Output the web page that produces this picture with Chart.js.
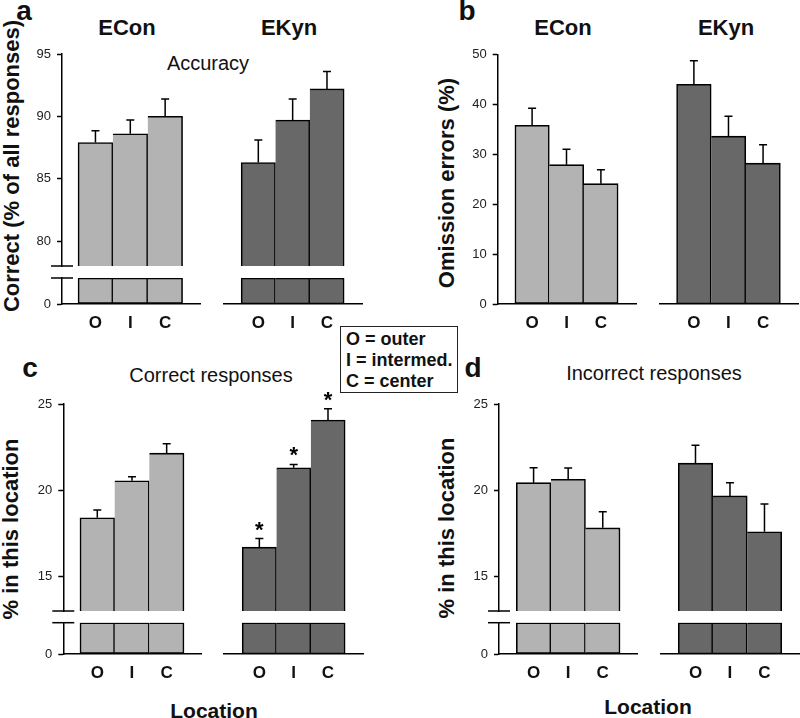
<!DOCTYPE html>
<html>
<head>
<meta charset="utf-8">
<script src="https://cdn.jsdelivr.net/npm/chart.js@4.4.0/dist/chart.umd.min.js"></script>
<style>
  body { margin: 0; background: #fff; }
  #fig { position: relative; width: 800px; height: 718px; overflow: hidden; background: #fff;
         font-family: 'Liberation Sans', Arial, sans-serif; color: #111; }
  #fig canvas { position: absolute; }
  .t { position: absolute; white-space: nowrap; line-height: 1; transform: translate(-50%, -50%); }
  .letter { font-weight: bold; font-size: 28px; }
  .grp { font-weight: bold; font-size: 22px; }
  .sub { font-size: 20px; }
  .ytitle { font-weight: bold; font-size: 22px; transform: translate(-50%, -50%) rotate(-90deg); }
  .xtitle { font-weight: bold; font-size: 21px; }
  #legend { position: absolute; left: 340px; top: 326px; width: 118px; height: 67px; border: 1px solid #222;
            font-weight: bold; font-size: 18px; line-height: 21px; padding: 2px 0 0 5px; box-sizing: border-box;
            white-space: nowrap; }
</style>
</head>
<body>
<div id="fig">
  <div class="t letter" style="left:24px;top:11px">a</div>
  <div class="t grp" style="left:127px;top:28px">ECon</div>
  <div class="t grp" style="left:289px;top:28px">EKyn</div>
  <div class="t sub" style="left:208px;top:63px">Accuracy</div>
  <div class="t ytitle" style="left:12px;top:166px">Correct (% of all responses)</div>

  <div class="t letter" style="left:467px;top:11px">b</div>
  <div class="t grp" style="left:563px;top:28px">ECon</div>
  <div class="t grp" style="left:726px;top:28px">EKyn</div>
  <div class="t ytitle" style="left:447px;top:183px">Omission errors (%)</div>

  <div id="legend">O = outer<br>I = intermed.<br>C = center</div>

  <div class="t letter" style="left:30px;top:368px">c</div>
  <div class="t sub" style="left:211px;top:375px">Correct responses</div>
  <div class="t ytitle" style="left:11px;top:529px">% in this location</div>
  <div class="t xtitle" style="left:214px;top:710px">Location</div>

  <div class="t letter" style="left:473px;top:368px">d</div>
  <div class="t sub" style="left:654px;top:373px">Incorrect responses</div>
  <div class="t ytitle" style="left:447px;top:528px">% in this location</div>
  <div class="t xtitle" style="left:648px;top:706px">Location</div>
</div>
<script>
// data
const locations = ['O', 'I', 'C'];

const accEConMean = [87.9, 88.6, 90.0];
const accEConErr  = [0.95, 1.1, 1.4];
const accEKynMean = [86.3, 89.7, 92.2];
const accEKynErr  = [1.8, 1.7, 1.4];

const omEConMean = [35.8, 27.9, 24.1];
const omEConErr  = [3.4, 3.1, 2.8];
const omEKynMean = [44.0, 33.6, 28.2];
const omEKynErr  = [4.7, 4.0, 3.7];

const corEConMean = [18.4, 20.55, 22.15];
const corEConErr  = [0.45, 0.23, 0.55];
const corEKynMean = [16.7, 21.3, 24.07];
const corEKynErr  = [0.5, 0.2, 0.65];
const corEKynStars = ['*', '*', '*'];

const incEConMean = [20.44, 20.64, 17.82];
const incEConErr  = [0.87, 0.65, 0.94];
const incEKynMean = [21.57, 19.67, 17.59];
const incEKynErr  = [1.04, 0.77, 1.62];

const accTicks = [80, 85, 90, 95];
const omTicks = [0, 10, 20, 30, 40, 50];
const locTicks = [15, 20, 25];
const zeroTick = [0];
const stubMax = 2;   // height of the short segment below an axis break

const lightGrey = '#b3b3b3';
const darkGrey = '#686868';
const FONT = "'Liberation Sans', Arial, sans-serif";
const fig = document.getElementById('fig');

// overlay: error bars, asterisks, axis break marks
const overlay = {
  id: 'overlay',
  afterDatasetsDraw(chart, args, o) {
    const c = chart.ctx, xs = chart.scales.x, ys = chart.scales.y, area = chart.chartArea;
    c.save();
    c.strokeStyle = '#000';
    c.fillStyle = '#000';
    c.lineWidth = 1.5;
    if (o.errors) {
      o.values.forEach((v, i) => {
        const x = xs.getPixelForValue(i);
        const y0 = ys.getPixelForValue(v);
        const y1 = ys.getPixelForValue(v + o.errors[i]);
        c.beginPath();
        c.moveTo(x, y0); c.lineTo(x, y1);
        c.moveTo(x - 4, y1); c.lineTo(x + 4, y1);
        c.stroke();
        if (o.stars && o.stars[i]) {
          c.font = 'bold 22px ' + FONT;
          c.textAlign = 'center';
          c.textBaseline = 'alphabetic';
          c.fillText(o.stars[i], x, y1 - 2);
        }
      });
    }
    if (o.brk) {
      const y = o.brk === 'top' ? area.top : area.bottom;
      c.beginPath();
      c.moveTo(area.left - 11, y); c.lineTo(area.left + 11, y);
      c.stroke();
    }
    c.restore();
  }
};

function addChart(opt) {
  const [l, t, r, b] = opt.box;
  const left = Math.floor(l - (opt.yTicks ? 50 : 20));
  const top = Math.floor(t - 20);
  const padL = l - left, padT = t - top;
  const padR = 12, padB = opt.labels ? 36 : 20;
  const w = Math.ceil(padL + (r - l) + padR), h = Math.ceil(padT + (b - t) + padB);
  const cv = document.createElement('canvas');
  cv.width = w; cv.height = h;
  cv.style.left = left + 'px'; cv.style.top = top + 'px';
  cv.style.width = w + 'px'; cv.style.height = h + 'px';
  fig.appendChild(cv);

  const shown = opt.clip != null ? opt.values.map(v => Math.min(v, opt.clip)) : opt.values;
  new Chart(cv, {
    type: 'bar',
    data: {
      datasets: [{
        data: shown.map((v, i) => ({ x: i, y: v })),
        backgroundColor: opt.color,
        borderColor: '#000',
        borderWidth: 1.6,
        borderSkipped: ctx => ctx.dataIndex > 0 ? 'left' : false,
        barPercentage: 1,
        categoryPercentage: 1
      }]
    },
    options: {
      responsive: false,
      animation: false,
      events: [],
      // the scales' afterFit callbacks reserve the left and bottom margins
      layout: { padding: { left: 0, top: padT, right: padR, bottom: 0 } },
      plugins: {
        legend: { display: false },
        tooltip: { enabled: false },
        overlay: { values: opt.values, errors: opt.errors, stars: opt.stars, brk: opt.brk }
      },
      scales: {
        x: {
          type: 'linear',
          offset: false,
          bounds: 'data',
          min: opt.xRange[0], max: opt.xRange[1],
          display: !!opt.labels,
          grid: { display: false, drawTicks: false },
          border: { display: true, color: '#000', width: 1.5 },
          ticks: {
            padding: 9,
            color: '#111',
            font: { family: FONT, size: 17, weight: 'bold' },
            callback: v => locations[v]
          },
          afterBuildTicks: s => { s.ticks = locations.map((_, i) => ({ value: i })); },
          afterFit: s => { s.height = padB; }
        },
        y: {
          min: opt.yRange[0], max: opt.yRange[1],
          display: !!opt.yTicks,
          grid: { display: true, drawOnChartArea: false, drawTicks: true, tickLength: 5, color: '#000', tickColor: '#000', tickWidth: 1.5 },
          border: { display: true, color: '#000', width: 1.5 },
          ticks: { padding: 6, color: '#222', font: { family: FONT, size: 13 } },
          afterBuildTicks: s => { if (opt.yTicks) s.ticks = opt.yTicks.map(v => ({ value: v })); },
          afterFit: s => { s.width = padL; }
        }
      }
    },
    plugins: [overlay]
  });
}

// panel a (broken axis)
addChart({ box: [62, 54, 199.3, 265.5], xRange: [-0.96, 3.0], yRange: [78, 95], yTicks: accTicks,
  values: accEConMean, errors: accEConErr, color: lightGrey, brk: 'bottom' });
addChart({ box: [62, 278, 199.3, 304], xRange: [-0.96, 3.0], yRange: [0, stubMax], yTicks: zeroTick,
  values: accEConMean, clip: stubMax, color: lightGrey, brk: 'top', labels: true });
addChart({ box: [223.3, 54, 362, 265.5], xRange: [-1.02, 3.02], yRange: [78, 95],
  values: accEKynMean, errors: accEKynErr, color: darkGrey });
addChart({ box: [223.3, 278, 362, 304], xRange: [-1.02, 3.02], yRange: [0, stubMax],
  values: accEKynMean, clip: stubMax, color: darkGrey, labels: true });

// panel b
addChart({ box: [497.7, 54.3, 635.7, 304], xRange: [-1.0, 3.02], yRange: [0, 50], yTicks: omTicks,
  values: omEConMean, errors: omEConErr, color: lightGrey, labels: true });
addChart({ box: [659.3, 54.3, 797.7, 304], xRange: [-1.0, 3.01], yRange: [0, 50],
  values: omEKynMean, errors: omEKynErr, color: darkGrey, labels: true });

// panel c (broken axis)
addChart({ box: [63.3, 404, 200.7, 610.7], xRange: [-0.98, 2.99], yRange: [13, 25], yTicks: locTicks,
  values: corEConMean, errors: corEConErr, color: lightGrey, brk: 'bottom' });
addChart({ box: [63.3, 622.7, 200.7, 654], xRange: [-0.98, 2.99], yRange: [0, stubMax], yTicks: zeroTick,
  values: corEConMean, clip: stubMax, color: lightGrey, brk: 'top', labels: true });
addChart({ box: [224, 404, 363, 610.7], xRange: [-1.03, 3.02], yRange: [13, 25],
  values: corEKynMean, errors: corEKynErr, stars: corEKynStars, color: darkGrey });
addChart({ box: [224, 622.7, 363, 654], xRange: [-1.03, 3.02], yRange: [0, stubMax],
  values: corEKynMean, clip: stubMax, color: darkGrey, labels: true });

// panel d (broken axis)
addChart({ box: [499, 404, 636.7, 610.7], xRange: [-1.0, 2.99], yRange: [13, 25], yTicks: locTicks,
  values: incEConMean, errors: incEConErr, color: lightGrey, brk: 'bottom' });
addChart({ box: [499, 622.7, 636.7, 654], xRange: [-1.0, 2.99], yRange: [0, stubMax], yTicks: zeroTick,
  values: incEConMean, clip: stubMax, color: lightGrey, brk: 'top', labels: true });
addChart({ box: [661, 404, 800, 610.7], xRange: [-1.0, 3.03], yRange: [13, 25],
  values: incEKynMean, errors: incEKynErr, color: darkGrey });
addChart({ box: [661, 622.7, 800, 654], xRange: [-1.0, 3.03], yRange: [0, stubMax],
  values: incEKynMean, clip: stubMax, color: darkGrey, labels: true });
</script>
</body>
</html>
